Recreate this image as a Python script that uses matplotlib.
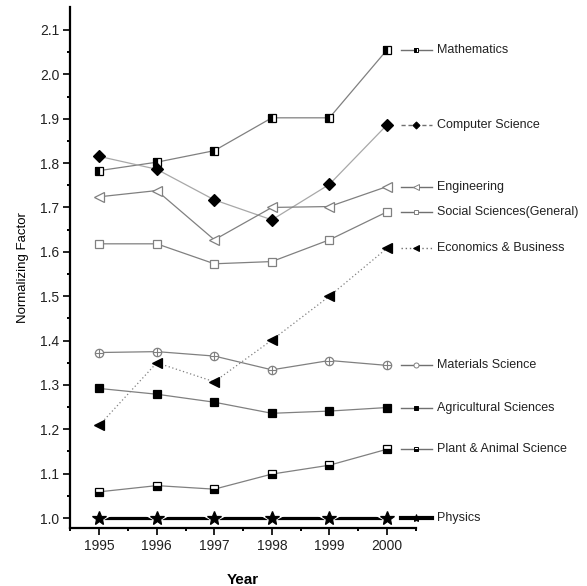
import matplotlib
matplotlib.use("Agg")
import matplotlib.pyplot as plt

plt.rcParams['font.family'] = ['Liberation Sans', 'DejaVu Sans']

years = [1995, 1996, 1997, 1998, 1999, 2000]

mathematics = [1.783, 1.802, 1.828, 1.902, 1.902, 2.055]
computer_science = [1.815, 1.786, 1.717, 1.672, 1.752, 1.886]
engineering = [1.724, 1.738, 1.627, 1.700, 1.702, 1.747]
social_sciences = [1.618, 1.618, 1.573, 1.578, 1.627, 1.690]
economics = [1.209, 1.350, 1.307, 1.401, 1.500, 1.608]
materials = [1.373, 1.375, 1.365, 1.334, 1.355, 1.344]
agricultural = [1.292, 1.279, 1.261, 1.236, 1.241, 1.249]
plant_animal = [1.059, 1.073, 1.065, 1.099, 1.119, 1.155]
physics = [1.0, 1.0, 1.0, 1.0, 1.0, 1.0]

series_names = ["Mathematics", "Computer Science", "Engineering",
                "Social Sciences(General)", "Economics & Business",
                "Materials Science", "Agricultural Sciences",
                "Plant & Animal Science", "Physics"]

fig = plt.figure(figsize=(5.87, 5.86), dpi=100)
ax = fig.add_axes([0.1201, 0.099, 0.5881, 0.8896])

GRAY = "#808080"
LGRAY = "#a8a8a8"

styles = [
    dict(data=mathematics, color=GRAY, ls='-', lw=0.9, marker='s', ms=5.2,
         mfc='black', mfcalt='white', fill='left', mec='black'),
    dict(data=computer_science, color=LGRAY, ls='-', lw=0.9, marker='D', ms=6,
         mfc='black', mec='black', leg_ls=(0, (3, 2))),
    dict(data=engineering, color=GRAY, ls='-', lw=0.9, marker='<', ms=7,
         mfc='white', mec=GRAY),
    dict(data=social_sciences, color=GRAY, ls='-', lw=0.9, marker='s', ms=5.2,
         mfc='white', mec=GRAY),
    dict(data=economics, color=GRAY, ls=(0, (1, 2)), lw=0.9, marker='<', ms=7.5,
         mfc='black', mec='black'),
    dict(data=materials, color=GRAY, ls='-', lw=0.9, marker='o', ms=6,
         mfc='white', mec=GRAY, plus=True),
    dict(data=agricultural, color=GRAY, ls='-', lw=0.9, marker='s', ms=5.5,
         mfc='black', mec='black'),
    dict(data=plant_animal, color=GRAY, ls='-', lw=0.9, marker='s', ms=5.2,
         mfc='black', mfcalt='white', fill='bottom', mec='black'),
    dict(data=physics, color='black', ls='-', lw=2.3, marker='*', ms=10,
         mfc='black', mec='black', halo=True),
]

for name, st in zip(series_names, styles):
    ax.plot(years, st['data'], color=st['color'], linestyle=st['ls'],
            linewidth=st['lw'], zorder=2)
    if st.get('halo'):
        # white backing so the thick line breaks around each star
        ax.plot(years, st['data'], linestyle='none', marker=st['marker'],
                markersize=st['ms'] + 6, markerfacecolor='white',
                markeredgecolor='white', zorder=2.5)
    kw = dict(linestyle='none', marker=st['marker'], markersize=st['ms'],
              markerfacecolor=st['mfc'], markeredgecolor=st['mec'],
              markeredgewidth=0.9, zorder=3)
    if 'fill' in st:
        kw['fillstyle'] = st['fill']
        kw['markerfacecoloralt'] = st['mfcalt']
    ax.plot(years, st['data'], **kw)
    if st.get('plus'):
        ax.plot(years, st['data'], linestyle='none', marker='+',
                markersize=st['ms'], markeredgecolor=GRAY,
                markeredgewidth=0.8, zorder=4)

    # legend entry beside the last point
    y_end = st['data'][-1]
    leg_ls = st.get('leg_ls', st['ls'])
    thick = st['lw'] > 2
    ax.plot([2000.25, 2000.78], [y_end, y_end],
            color='black' if thick else '#707070', linestyle=leg_ls,
            linewidth=3.0 if thick else 1.0, clip_on=False, zorder=3)
    mkw = dict(marker=st['marker'], markersize=st['ms'] * 0.6,
               markerfacecolor=st['mfc'], markeredgecolor=st['mec'],
               markeredgewidth=0.7, linestyle='none', clip_on=False, zorder=4)
    if 'fill' in st:
        mkw['fillstyle'] = st['fill']
        mkw['markerfacecoloralt'] = st['mfcalt']
    ax.plot([2000.51], [y_end], **mkw)
    ax.text(2000.87, y_end, name, fontsize=9, va='center', ha='left',
            color='#222222', clip_on=False)

ax.set_xlim(1994.5, 2000.5)
ax.set_ylim(0.9775, 2.1525)
ax.set_xticks(years)
ax.set_xticks([1994.5 + i for i in range(7)], minor=True)
ax.set_yticks([1.0 + 0.1 * i for i in range(12)])
ax.set_yticks([1.05 + 0.1 * i for i in range(11)], minor=True)
ax.set_yticklabels([f"{1.0 + 0.1 * i:.1f}" for i in range(12)])

for side in ('top', 'right'):
    ax.spines[side].set_visible(False)
for side in ('left', 'bottom'):
    ax.spines[side].set_linewidth(1.6)

ax.tick_params(axis='both', which='major', direction='out', length=5,
               width=1.4, labelsize=10, pad=3, colors='#222222')
ax.tick_params(axis='both', which='minor', direction='out', length=2.5,
               width=1.4)

ax.set_xlabel("Year", fontsize=11, fontweight='bold', labelpad=14)
ax.set_ylabel("Normalizing Factor", fontsize=9.5, labelpad=8)

fig.savefig("out.png", dpi=100)
